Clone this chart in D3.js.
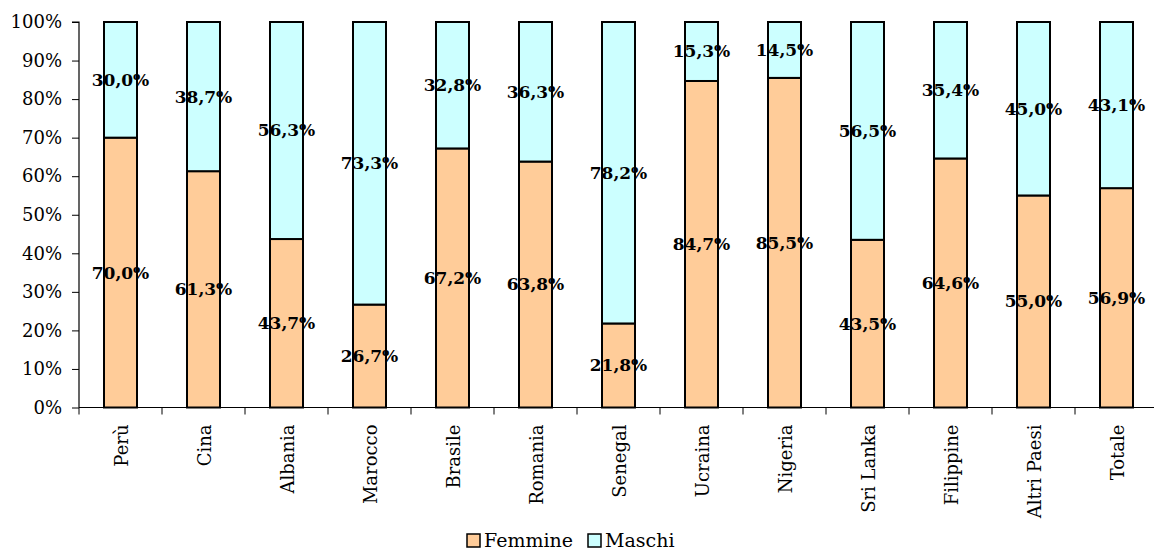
<!DOCTYPE html>
<html><head><meta charset="utf-8">
<script src="https://cdn.jsdelivr.net/npm/d3@7"></script>
<style>body{margin:0;background:#fff}svg{display:block}</style>
</head><body>
<script>
const categories = ["Perù","Cina","Albania","Marocco","Brasile","Romania","Senegal","Ucraina","Nigeria","Sri Lanka","Filippine","Altri Paesi","Totale"];
const femmine = [70.0,61.3,43.7,26.7,67.2,63.8,21.8,84.7,85.5,43.5,64.6,55.0,56.9];
const maschi  = [30.0,38.7,56.3,73.3,32.8,36.3,78.2,15.3,14.5,56.5,35.4,45.0,43.1];
const yTicks = [0,10,20,30,40,50,60,70,80,90,100];
const seriesNames = ["Femmine","Maschi"];
const seriesColors = ["#FFCC99","#CCFFFF"];

const W = 1154, H = 553;
const svg = d3.select("body").append("svg").attr("width", W).attr("height", H);
const mLeft = 79, mTop = 22, mBottom = 407.5, band = 83;
const xb = d3.scaleBand().domain(categories).range([mLeft, mLeft + band*categories.length]);
const y = d3.scaleLinear().domain([0,100]).range([mBottom, mTop]);
const font = "'DejaVu Serif', serif";

// y axis
const ya = svg.append("g").attr("transform", `translate(${mLeft},0)`)
  .call(d3.axisLeft(y).tickValues(yTicks).tickFormat(d => d + "%").tickSize(7).tickPadding(10));
ya.select(".domain").attr("stroke", "#000").attr("stroke-width", 1.2).attr("d", `M-7,${mTop}H0V${mBottom}`);
ya.selectAll("text").attr("font-family", font).attr("font-size", 18).attr("fill", "#000");
ya.selectAll("line").attr("stroke", "#000");

// bars
const data = categories.map((c,i) => ({c, f: femmine[i], m: maschi[i]}));
const g = svg.append("g");
data.forEach(d => {
  const bx = xb(d.c) + xb.bandwidth()/2 - 16.5;
  g.append("rect").attr("x", bx).attr("width", 33)
    .attr("y", y(d.f)).attr("height", y(0) - y(d.f))
    .attr("fill", seriesColors[0]).attr("stroke", "#000").attr("stroke-width", 2);
  g.append("rect").attr("x", bx).attr("width", 33)
    .attr("y", y(100)).attr("height", y(d.f) - y(100))
    .attr("fill", seriesColors[1]).attr("stroke", "#000").attr("stroke-width", 2);
});

// x axis
const xa = svg.append("g").attr("transform", `translate(0,${mBottom})`);
xa.append("line").attr("x1", mLeft).attr("x2", W).attr("y1", 0).attr("y2", 0).attr("stroke", "#000").attr("stroke-width", 1.2);
categories.forEach((c,i) => {
  const tx = xb(c);
  xa.append("line").attr("x1", tx).attr("x2", tx).attr("y1", 0).attr("y2", 7).attr("stroke", "#000");
});
categories.forEach(c => {
  const cx = xb(c) + xb.bandwidth()/2;
  xa.append("text").attr("transform", `translate(${cx + 7},17) rotate(-90)`)
    .attr("text-anchor", "end").attr("font-family", font).attr("font-size", 18).attr("fill", "#000").text(c);
});

// labels
const fmt = v => v.toFixed(1).replace(".", ",") + "%";
data.forEach(d => {
  const cx = xb(d.c) + xb.bandwidth()/2;
  svg.append("text").attr("x", cx).attr("y", (y(0) + y(d.f))/2).attr("dy", "0.35em")
    .attr("text-anchor", "middle").attr("font-family", font).attr("font-weight", "bold").attr("font-size", 17).text(fmt(d.f));
  svg.append("text").attr("x", cx).attr("y", (y(d.f) + y(100))/2).attr("dy", "0.35em")
    .attr("text-anchor", "middle").attr("font-family", font).attr("font-weight", "bold").attr("font-size", 17).text(fmt(d.m));
});

// legend
const lg = svg.append("g");
const lx = [467, 588];
seriesNames.forEach((n,i) => {
  lg.append("rect").attr("x", lx[i]).attr("y", 534).attr("width", 13).attr("height", 13)
    .attr("fill", seriesColors[i]).attr("stroke", "#000").attr("stroke-width", 1.5);
  lg.append("text").attr("x", lx[i] + 17).attr("y", 547).attr("font-family", font).attr("font-size", 19).text(n);
});
</script>
</body></html>
